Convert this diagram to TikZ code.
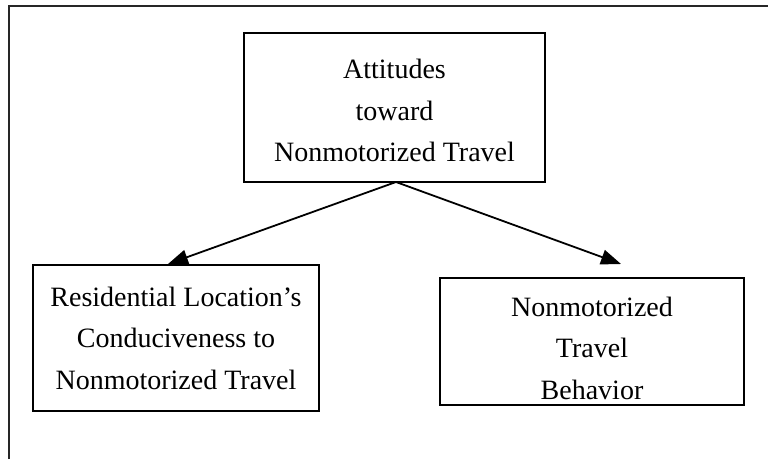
\documentclass[tikz,border=0pt]{standalone}
\usepackage{fontspec}
\setmainfont{Liberation Serif}
\usetikzlibrary{arrows.meta}
\begin{document}
\begin{tikzpicture}[x=1pt,y=-1pt,
  box/.style={draw,line width=2pt,rectangle,inner sep=0pt},
  txt/.style={align=center,inner sep=0pt,font=\fontsize{28}{41.5}\selectfont},
  arr/.style={line width=1.8pt,-{Triangle[length=20pt,width=15pt]}},
  frame/.style={line width=2pt,draw=black!85}]
\useasboundingbox (0,0) rectangle (768,459);
\coordinate (fa) at (8.5,459);
\coordinate (fb) at (8.5,6);
\coordinate (fc) at (768,6);
\draw[frame] (fa) -- (fb) -- (fc);
\node[box,minimum width=301pt,minimum height=149pt] (top) at (394.5,107.5) {};
\node[txt] (toptxt) at ([yshift=-3pt]top.center)
  {Attitudes\\toward\\Nonmotorized Travel};
\node[box,minimum width=286pt,minimum height=146pt] (left) at (176,338) {};
\node[txt] (lefttxt) at ([yshift=0pt]left.center)
  {Residential Location’s\\Conduciveness to\\Nonmotorized Travel};
\node[box,minimum width=304pt,minimum height=127pt] (right) at (592,341.5) {};
\node[txt] (righttxt) at ([yshift=-6.5pt]right.center)
  {Nonmotorized\\Travel\\Behavior};
\coordinate (apex) at (396,182);
\coordinate (lend) at (168,264);
\coordinate (rend) at (621,264);
\draw[arr] (apex) -- (lend);
\draw[arr] (apex) -- (rend);
\end{tikzpicture}
\end{document}
